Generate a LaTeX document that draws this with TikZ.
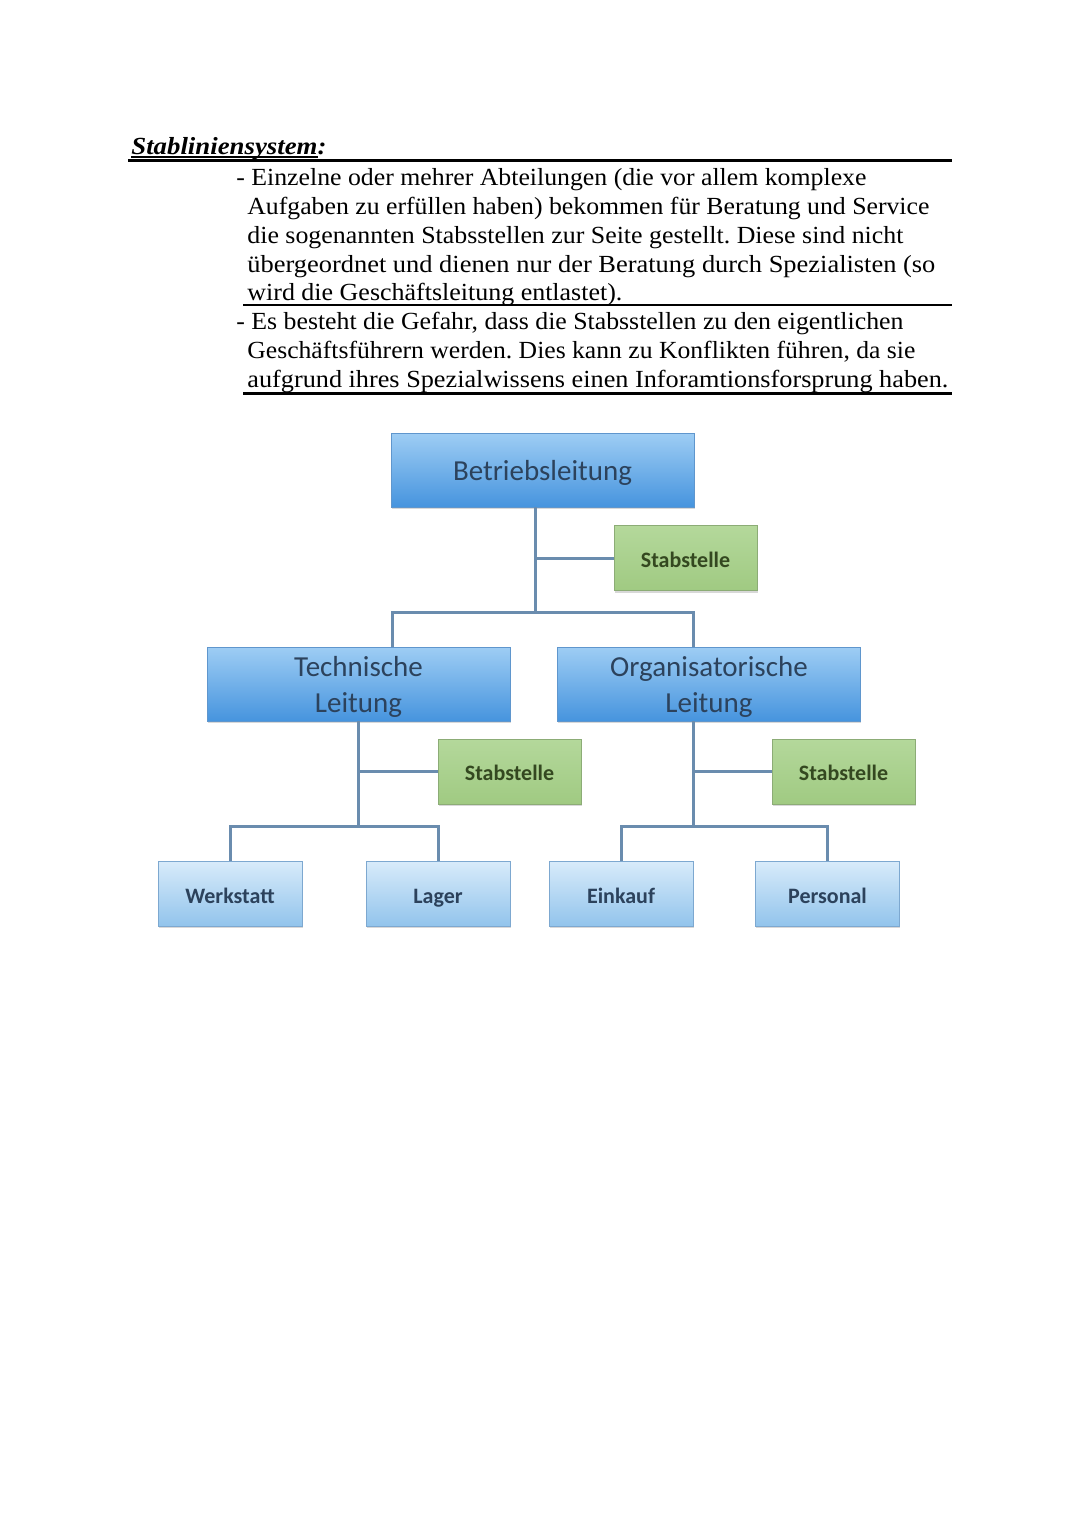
\documentclass[tikz,border=0pt]{standalone}
\usepackage{graphicx}
\usepackage{fontspec}
\setmainfont{Liberation Serif}
\newfontfamily\boxfont{Carlito}
\usetikzlibrary{shadows}
\frenchspacing

\definecolor{liniefarbe}{RGB}{106,140,174}
\definecolor{blauoben}{RGB}{158,205,244}
\definecolor{blauunten}{RGB}{70,148,222}
\definecolor{blaurand}{RGB}{95,150,205}
\definecolor{hellblauoben}{RGB}{216,235,250}
\definecolor{hellblauunten}{RGB}{146,196,236}
\definecolor{hellblaurand}{RGB}{125,168,208}
\definecolor{gruenoben}{RGB}{180,216,155}
\definecolor{gruenunten}{RGB}{160,202,130}
\definecolor{gruenrand}{RGB}{140,172,118}
\definecolor{textblau}{RGB}{44,66,92}
\definecolor{textgruen}{RGB}{52,72,32}

\newcommand{\zeile}[2]{\resizebox{#1}{\height}{#2}}

\begin{document}
\begin{tikzpicture}[x=0.5pt,y=-0.5pt,
  zeile/.style={anchor=base west, inner sep=0pt, font=\fontsize{12.3}{14.5}\selectfont},
  linie/.style={draw=liniefarbe, line width=1.5pt},
  kasten/.style={line width=0.5pt, inner sep=0pt, outer sep=0pt, align=center,
    drop shadow={shadow xshift=0.4pt, shadow yshift=-1.2pt, opacity=0.3}},
  leitung/.style={kasten, draw=blaurand, top color=blauoben, bottom color=blauunten,
    minimum width=151.5pt, minimum height=37pt, text=textblau, text depth=-0.5pt,
    font=\boxfont\fontsize{14.5}{18}\selectfont},
  stab/.style={kasten, draw=gruenrand, top color=gruenoben, bottom color=gruenunten,
    minimum width=71.5pt, minimum height=32.5pt, text=textgruen,
    text height=10.5pt, text depth=1.5pt,
    font=\boxfont\bfseries\fontsize{11}{13}\selectfont},
  abteilung/.style={kasten, draw=hellblaurand, top color=hellblauoben, bottom color=hellblauunten,
    minimum width=72pt, minimum height=32.5pt, text=textblau,
    text height=11pt, text depth=1.5pt,
    font=\boxfont\bfseries\fontsize{11}{13}\selectfont}]

\fill[white] (0,0) rectangle (1080,1527);
\useasboundingbox (0,0) rectangle (1080,1527);

% Text oben
\node[zeile, font=\bfseries\itshape\fontsize{12.3}{14.5}\selectfont] (titel) at (131,154) {\zeile{97.5pt}{Stabliniensystem:}};
\draw[line width=0.6pt] (131,157) -- (318,157);
\draw[line width=1.5pt] (128,160) -- (952,160);

\node[zeile] (z1) at (236,185) {\zeile{315pt}{- Einzelne oder mehrer Abteilungen (die vor allem komplexe}};
\node[zeile] (z2) at (247,214) {\zeile{341pt}{Aufgaben zu erfüllen haben) bekommen für Beratung und Service}};
\node[zeile] (z3) at (247,243) {\zeile{328pt}{die sogenannten Stabsstellen zur Seite gestellt. Diese sind nicht}};
\node[zeile] (z4) at (247,272) {\zeile{344pt}{übergeordnet und dienen nur der Beratung durch Spezialisten (so}};
\node[zeile] (z5) at (247,300) {\zeile{187.5pt}{wird die Geschäftsleitung entlastet).}};
\draw[line width=1pt] (243,305) -- (952,305);

\node[zeile] (z6) at (236,329) {\zeile{333.5pt}{- Es besteht die Gefahr, dass die Stabsstellen zu den eigentlichen}};
\node[zeile] (z7) at (247,358) {\zeile{334pt}{Geschäftsführern werden. Dies kann zu Konflikten führen, da sie}};
\node[zeile] (z8) at (247,387) {\zeile{350.5pt}{aufgrund ihres Spezialwissens einen Inforamtionsforsprung haben.}};
\draw[line width=1.5pt] (243,393) -- (952,393);

% Organigramm
\node[leitung] (betrieb) at (542.5,470) {Betriebsleitung};
\node[stab] (stab1) at (685.5,558) {Stabstelle};
\node[leitung] (tech) at (358.5,684) {Technische\\Leitung};
\node[leitung] (orga) at (709,684) {Organisatorische\\Leitung};
\node[stab] (stab2) at (509.5,771.5) {Stabstelle};
\node[stab] (stab3) at (843.5,771.5) {Stabstelle};
\node[abteilung] (werk) at (230,893.5) {Werkstatt};
\node[abteilung] (lager) at (438,893.5) {Lager};
\node[abteilung] (einkauf) at (621,893.5) {Einkauf};
\node[abteilung] (personal) at (827.5,893.5) {Personal};

\coordinate (bknick) at (535,612);
\coordinate (tknick) at (392,612);
\coordinate (oknick) at (693,612);
\coordinate (tunten) at (358.5,826);
\coordinate (ounten) at (693,826);

\draw[linie] (bknick |- betrieb.south) -- (bknick);
\draw[linie] (bknick |- stab1.west) -- (stab1.west);
\draw[linie] (tknick |- tech.north) -- (tknick) -- (oknick) -- (oknick |- orga.north);

\draw[linie] (tech.south) -- (tunten);
\draw[linie] (tunten |- stab2.west) -- (stab2.west);
\draw[linie] (werk.north) |- (tunten) -| (lager.north);

\draw[linie] (ounten |- orga.south) -- (ounten);
\draw[linie] (ounten |- stab3.west) -- (stab3.west);
\draw[linie] (einkauf.north) |- (ounten) -| (personal.north);

\end{tikzpicture}
\end{document}
